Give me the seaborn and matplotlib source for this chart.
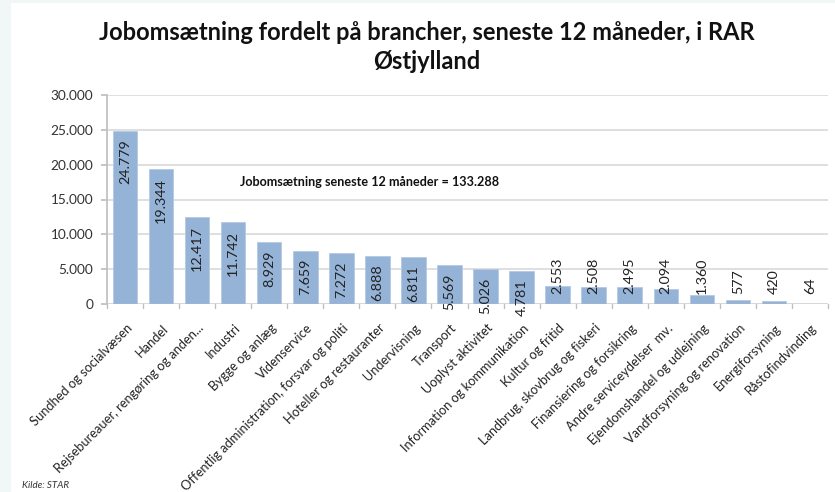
import numpy as np
import pandas as pd
import seaborn as sns
from matplotlib import pyplot as plt
from matplotlib.patches import Rectangle
import matplotlib.transforms as mtrans

# data
brancher = ['Sundhed og socialvæsen', 'Handel', 'Rejsebureauer, rengøring og anden...',
            'Industri', 'Bygge og anlæg', 'Videnservice',
            'Offentlig administration, forsvar og politi', 'Hoteller og restauranter',
            'Undervisning', 'Transport', 'Uoplyst aktivitet', 'Information og kommunikation',
            'Kultur og fritid', 'Landbrug, skovbrug og fiskeri', 'Finansiering og forsikring',
            'Andre serviceydelser  mv.', 'Ejendomshandel og udlejning',
            'Vandforsyning og renovation', 'Energiforsyning', 'Råstofindvinding']
jobs = [24779, 19344, 12417, 11742, 8929, 7659, 7272, 6888, 6811, 5569,
        5026, 4781, 2553, 2508, 2495, 2094, 1360, 577, 420, 64]
yticks = [0, 5000, 10000, 15000, 20000, 25000, 30000]

title = 'Jobomsætning fordelt på brancher, seneste 12 måneder, i RAR\nØstjylland'
note = 'Jobomsætning seneste 12 måneder = 133.288'


def dk(n):
    # danish thousands separator
    return f'{n:,}'.replace(',', '.')


df = pd.DataFrame({'branche': brancher, 'jobs': jobs})

sns.set_theme(style='white')
plt.rcParams['font.family'] = ['Lato', 'DejaVu Sans']

fig = plt.figure(figsize=(8.35, 4.92), dpi=100, facecolor='#F1F6F7')
fig.patches.append(Rectangle((11 / 835, 0), 1, 1 - 3 / 492, transform=fig.transFigure,
                             facecolor='white', edgecolor='none', zorder=-5))

ax = fig.add_axes([107 / 835, 1 - 304 / 492, 721 / 835, 209 / 492], zorder=2)
ax.set_facecolor('none')

sns.barplot(data=df, x='branche', y='jobs', color='#95B3D7', width=0.68,
            saturation=1, edgecolor='#B4CAE4', linewidth=0.6, ax=ax, zorder=3)

ax.set_ylim(0, 30000)
ax.set_xlim(-0.5, len(brancher) - 0.5)
ax.set_yticks(yticks)
ax.set_yticklabels([dk(v) for v in yticks], fontsize=9.8, color='#333333')
ax.yaxis.grid(True, color='#D9D9D9', linewidth=1.2, zorder=0)
ax.set_axisbelow(True)

for s in ['top', 'right', 'bottom']:
    ax.spines[s].set_visible(False)
ax.spines['left'].set_color('#BFBFBF')
ax.axhline(0, color='#BFBFBF', linewidth=1, zorder=4)

ax.tick_params(axis='y', left=True, length=4, color='#BFBFBF', pad=6)
ax.set_xticks(range(len(brancher)))
ax.set_xticklabels(brancher, rotation=45, ha='right', va='center', rotation_mode='anchor',
                   fontsize=9.3, color='#222222')
ax.tick_params(axis='x', bottom=False, pad=10)
shift = mtrans.ScaledTranslation(5 / 100, 0, fig.dpi_scale_trans)
for lab in ax.get_xticklabels():
    lab.set_transform(lab.get_transform() + shift)
# tick marks between the categories
for b in np.arange(-0.5, len(brancher), 1):
    ax.plot([b, b], [0, -0.018], transform=ax.get_xaxis_transform(),
            color='#BFBFBF', linewidth=1, clip_on=False)
ax.set_xlabel('')
ax.set_ylabel('')

# value labels, inside end or pushed up on short bars
for i, v in enumerate(jobs):
    if v > 4000:
        ax.annotate(dk(v), (i, v), xytext=(0, -6), textcoords='offset points',
                    rotation=90, ha='center', va='top', fontsize=10.3, color='#222222', zorder=5)
    else:
        ax.annotate(dk(v), (i, 0), xytext=(0, 7), textcoords='offset points',
                    rotation=90, ha='center', va='bottom', fontsize=10.3, color='#222222', zorder=5)

ax.text((240 - 107) / 721, (304 - 182) / 209, note, transform=ax.transAxes,
        fontsize=9.1, fontweight='bold', color='#111111', va='center', ha='left',
        bbox=dict(facecolor='white', edgecolor='none', pad=2), zorder=6)

fig.text(427 / 835, 1 - 47 / 492, title, ha='center', va='center', fontsize=17,
         fontweight='bold', color='#111111', linespacing=1.3)
fig.text(22 / 835, 1 - 486 / 492, 'Kilde: STAR', fontsize=7, style='italic',
         color='#333333', va='center')

fig.savefig('out.png', dpi=100, facecolor=fig.get_facecolor())
